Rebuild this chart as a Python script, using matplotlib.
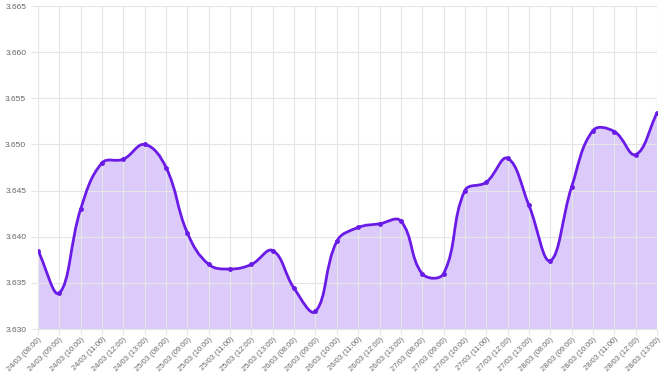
import numpy as np
import matplotlib
matplotlib.use("Agg")
import matplotlib.pyplot as plt
from matplotlib.path import Path
from matplotlib.patches import PathPatch

days = ["24/03", "25/03", "26/03", "27/03", "28/03"]
hours = ["08:00", "09:00", "10:00", "11:00", "12:00", "13:00"]
labels = [d + " (" + h + ")" for d in days for h in hours]

values = [3.6385, 3.6339, 3.6430, 3.6480, 3.6484, 3.6500,
          3.6475, 3.6404, 3.6370, 3.6365, 3.6370, 3.6385,
          3.6344, 3.6319, 3.6395, 3.6410, 3.6414, 3.6417,
          3.6360, 3.6360, 3.6450, 3.6459, 3.6485, 3.6434,
          3.6374, 3.6454, 3.6515, 3.6514, 3.6489, 3.6534]

LINE = "#6a1be6"
FILL = "#dccbfa"
GRID = "#e6e6e6"
TXT = "#666666"

plt.rcParams["font.family"] = ["Liberation Sans", "DejaVu Sans"]

fig = plt.figure(figsize=(6.61, 3.76), dpi=100)
ax = fig.add_axes([38 / 661, 1 - 329 / 376, 619 / 661, 323 / 376])

x = np.arange(len(values))
y = np.array(values)

# spline control points like chart.js (tension 0.4), distances in pixel space
sx, sy = 619 / (len(values) - 1), 323 / 0.035
t = 0.4
cp_prev, cp_next = [], []
for i in range(len(x)):
    p1 = np.array([x[i], y[i]])
    p0 = np.array([x[i - 1], y[i - 1]]) if i > 0 else p1
    p2 = np.array([x[i + 1], y[i + 1]]) if i < len(x) - 1 else p1
    d01 = np.hypot((p1[0] - p0[0]) * sx, (p1[1] - p0[1]) * sy)
    d12 = np.hypot((p2[0] - p1[0]) * sx, (p2[1] - p1[1]) * sy)
    tot = d01 + d12 if d01 + d12 > 0 else 1
    fa, fb = t * d01 / tot, t * d12 / tot
    cp_prev.append(p1 - fa * (p2 - p0))
    cp_next.append(p1 + fb * (p2 - p0))

verts = [(x[0], y[0])]
codes = [Path.MOVETO]
for i in range(1, len(x)):
    verts += [tuple(cp_next[i - 1]), tuple(cp_prev[i]), (x[i], y[i])]
    codes += [Path.CURVE4] * 3

fverts = verts + [(x[-1], 3.630), (x[0], 3.630), (x[0], y[0])]
fcodes = codes + [Path.LINETO, Path.LINETO, Path.CLOSEPOLY]
ax.add_patch(PathPatch(Path(fverts, fcodes), facecolor=FILL, edgecolor="none", zorder=1))
ax.add_patch(PathPatch(Path(verts, codes), facecolor="none", edgecolor=LINE, lw=2, zorder=3))
ax.plot(x, y, "o", ms=2.5, color=LINE, zorder=4)

ax.set_xlim(0, len(values) - 1)
ax.set_ylim(3.630, 3.665)
ax.set_yticks(np.arange(3.630, 3.6651, 0.005))
ax.set_yticklabels(["%.3f" % v for v in np.arange(3.630, 3.6651, 0.005)])
ax.set_xticks(x)
ax.set_xticklabels(labels, rotation=45, ha="right", rotation_mode="anchor")

ax.grid(True, color=GRID, lw=0.8, zorder=2)
ax.set_axisbelow(False)
for s in ax.spines.values():
    s.set_visible(False)
ax.spines["left"].set_visible(True)
ax.spines["left"].set_color(GRID)
ax.spines["bottom"].set_visible(True)
ax.spines["bottom"].set_color(GRID)
ax.tick_params(colors=TXT, labelsize=6, length=5, width=0.8)
ax.tick_params(axis="both", color=GRID)
ax.tick_params(axis="x", labelsize=5.5, pad=1, length=4)

fig.savefig("out.png", dpi=100)
